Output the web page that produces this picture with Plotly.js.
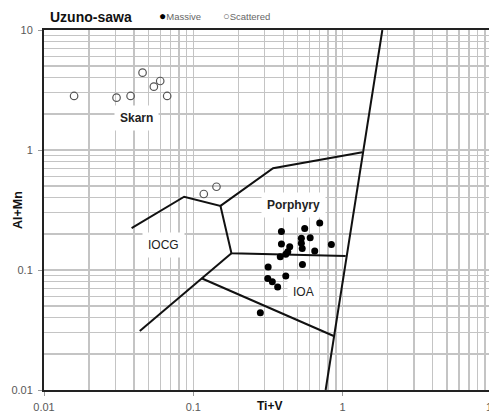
<!DOCTYPE html>
<html><head><meta charset="utf-8">
<script src="https://cdn.plot.ly/plotly-3.0.1.min.js"></script>
<style>html,body{margin:0;padding:0;overflow:hidden;background:#fff}#chart{width:500px;height:414px}</style>
</head><body><div id="chart"></div>
<script>
// Data points
const massiveX = [0.702,0.557,0.389,0.606,0.529,0.389,0.529,0.442,0.840,0.536,0.650,0.429,0.416,0.382,0.538,0.317,0.416,0.315,0.338,0.367,0.281];
const massiveY = [0.246,0.222,0.209,0.186,0.184,0.165,0.167,0.156,0.163,0.151,0.144,0.142,0.135,0.129,0.111,0.106,0.089,0.085,0.080,0.072,0.044];
const scatteredX = [0.0159,0.0306,0.0380,0.0457,0.0544,0.0600,0.0668,0.1175,0.1429];
const scatteredY = [2.82,2.73,2.82,4.41,3.37,3.76,2.82,0.430,0.494];
// Field boundaries
const bndAX = [0.0386,0.0868,0.152,0.342,1.355];
const bndAY = [0.223,0.408,0.342,0.704,0.957];
const bndBX = [0.152,0.180,1.047];
const bndBY = [0.342,0.138,0.131];
const bndCX = [0.180,0.0438];
const bndCY = [0.138,0.031];
const bndDX = [0.1134,0.871];
const bndDY = [0.0853,0.0282];
const bndEX = [1.844,0.769];
const bndEY = [10,0.01];
// Field labels
const fieldNames = ['Skarn','Porphyry','IOCG','IOA'];
const fieldX = [0.0419,0.465,0.0628,0.543];
const fieldY = [1.848,0.348,0.1616,0.0659];
const fieldBold = [true,true,false,false];
// Ticks
const tickVals = [0.01,0.1,1,10];
const tickText = ['0.01','0.1','1','10'];

const FONT = 'Liberation Sans, Arial, sans-serif';
const lineStyle = {color:'#111', width:2};
function bnd(x,y){return {x:x,y:y,type:'scatter',mode:'lines',line:lineStyle,hoverinfo:'skip',showlegend:false};}

const traces = [
  bnd(bndAX,bndAY), bnd(bndBX,bndBY), bnd(bndCX,bndCY), bnd(bndDX,bndDY), bnd(bndEX,bndEY),
  {x:scatteredX,y:scatteredY,type:'scatter',mode:'markers',name:'Scattered',showlegend:false,
   marker:{symbol:'circle-open',size:7.5,color:'#555',line:{width:1.2,color:'#555'}}},
  {x:massiveX,y:massiveY,type:'scatter',mode:'markers',name:'Massive',showlegend:false,
   marker:{symbol:'circle',size:7,color:'#000'}}
];

const PW = 448.5, PH = 360;
const annotations = fieldNames.map((t,i)=>({
  x:Math.log10(fieldX[i]), y:Math.log10(fieldY[i]), xref:'x', yref:'y',
  text: fieldBold[i] ? '<b>'+t+'</b>' : t, showarrow:false,
  font:{family:FONT,size:12,color:'#222'}, bgcolor:'#fff', borderpad:5
}));
annotations.push(
  {x:(270-44)/PW, y:(390-406)/PH, xref:'paper', yref:'paper', text:'<b>Ti+V</b>', showarrow:false,
   font:{family:FONT,size:12,color:'#111'}, xanchor:'center', yanchor:'middle'},
  {x:(18-44)/PW, y:0.5, xref:'paper', yref:'paper', text:'<b>Al+Mn</b>', showarrow:false, textangle:-90,
   font:{family:FONT,size:12.5,color:'#111'}, xanchor:'center', yanchor:'middle'},
  {x:(157-44)/PW, y:1+(30-16)/PH, xref:'paper', yref:'paper', xanchor:'left', yanchor:'middle', showarrow:false,
   text:'<span style="color:#000;font-size:12px">●</span>Massive', font:{family:FONT,size:9.5,color:'#666'}},
  {x:(221-44)/PW, y:1+(30-16)/PH, xref:'paper', yref:'paper', xanchor:'left', yanchor:'middle', showarrow:false,
   text:'<span style="font-size:11px">○</span>Scattered', font:{family:FONT,size:9.5,color:'#666'}}
);

const axisCommon = {
  type:'log', range:[-2,1], tickvals:tickVals, ticktext:tickText,
  showgrid:true, gridcolor:'#c4c4c4', gridwidth:1.4,
  minor:{dtick:'D1', showgrid:true, gridcolor:'#c4c4c4', gridwidth:1.4, ticks:''},
  showline:true, linecolor:'#222', linewidth:2,
  ticks:'outside', ticklen:4, tickcolor:'#999', tickwidth:1,
  tickfont:{family:FONT,size:11,color:'#595959'}, zeroline:false
};

const layout = {
  width:500, height:414,
  margin:{l:44, r:7.5, t:30, b:24},
  paper_bgcolor:'#fff', plot_bgcolor:'#fff',
  title:{text:'<b>Uzuno-sawa</b>', x:50/500, xanchor:'left', y:1-17/414, yanchor:'middle',
         font:{family:FONT,size:14,color:'#111'}},
  xaxis:Object.assign({}, axisCommon, {mirror:true, ticklabelstandoff:2}),
  yaxis:Object.assign({}, axisCommon, {mirror:false, ticklabelstandoff:3}),
  annotations:annotations,
  showlegend:false
};

Plotly.newPlot('chart', traces, layout, {staticPlot:true, displayModeBar:false});
</script>
</body></html>
